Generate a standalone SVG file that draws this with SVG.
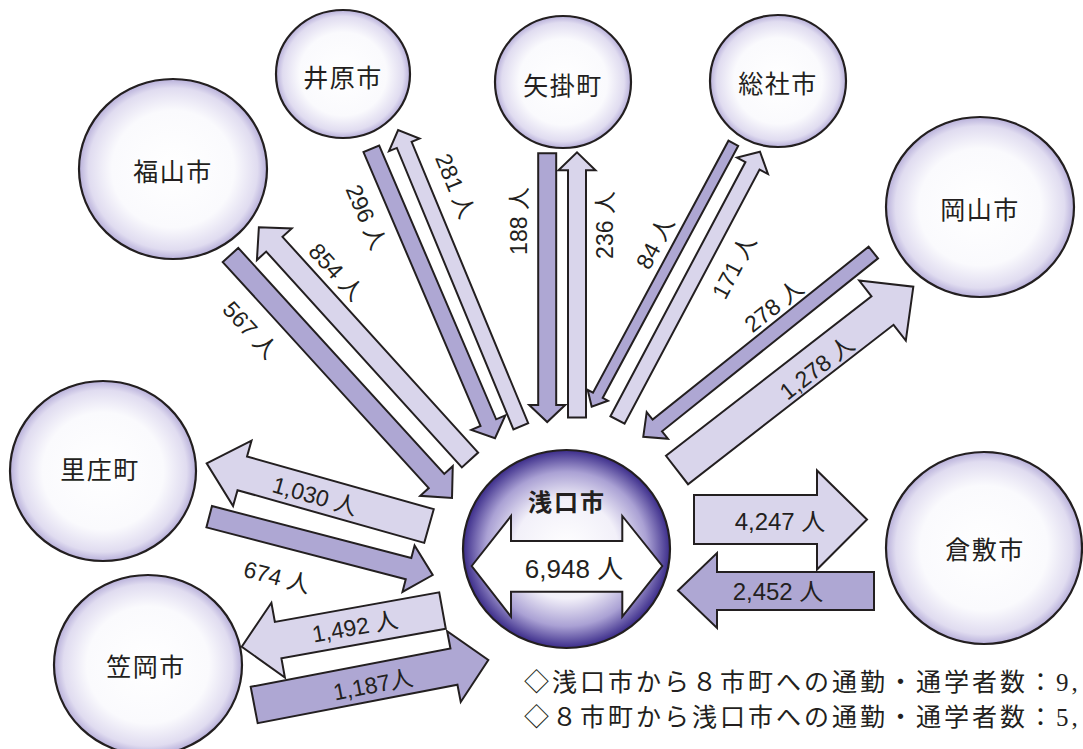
<svg xmlns="http://www.w3.org/2000/svg" width="1083" height="749" viewBox="0 0 1083 749">
<defs>
<radialGradient id="gN" cx="50%" cy="50%" r="50%">
<stop offset="0%" stop-color="#ffffff"/>
<stop offset="65%" stop-color="#fafafd"/>
<stop offset="90%" stop-color="#e0dcf0"/>
<stop offset="100%" stop-color="#b8b0da"/>
</radialGradient>
<radialGradient id="gC" cx="50%" cy="50%" r="50%">
<stop offset="0%" stop-color="#ffffff"/>
<stop offset="50%" stop-color="#f2f0f9"/>
<stop offset="78%" stop-color="#aaa1d4"/>
<stop offset="100%" stop-color="#3b2c8a"/>
</radialGradient>
<style>
.node{fill:url(#gN);stroke:#231f20;stroke-width:2.2}
.ctr{fill:url(#gC);stroke:#231f20;stroke-width:2.2}
.nl{font-family:'Noto Sans CJK JP',sans-serif;font-size:25px;fill:#231f20;text-anchor:middle;letter-spacing:1.5px}
.dk{fill:#aea7d3;stroke:#231f20;stroke-width:2}
.lt{fill:#d9d5eb;stroke:#231f20;stroke-width:2}
.wh{fill:#ffffff;stroke:#231f20;stroke-width:2}
.al{font-family:'Liberation Sans','Noto Sans CJK JP',sans-serif;font-size:23px;fill:#231f20;text-anchor:middle}
.bl{font-family:'Liberation Sans','Noto Sans CJK JP',sans-serif;font-size:24px;fill:#231f20;text-anchor:middle}
.big{font-family:'Liberation Sans','Noto Sans CJK JP',sans-serif;font-size:26px;fill:#231f20;text-anchor:middle}
.note{font-family:'Liberation Serif','Noto Sans CJK JP',serif;font-size:25px;fill:#231f20;letter-spacing:3px}
</style>
</defs>
<rect width="1083" height="749" fill="#ffffff"/>

<g id="node-fukuyama"><ellipse class="node" cx="173" cy="169" rx="94" ry="90"/><text class="nl" x="173" y="181">福山市</text></g>
<g id="node-ibara"><ellipse class="node" cx="343" cy="74" rx="67" ry="64"/><text class="nl" x="343" y="87">井原市</text></g>
<g id="node-yakage"><ellipse class="node" cx="563" cy="82" rx="68" ry="66"/><text class="nl" x="563" y="95">矢掛町</text></g>
<g id="node-soja"><ellipse class="node" cx="778" cy="81" rx="68" ry="66"/><text class="nl" x="778" y="93">総社市</text></g>
<g id="node-okayama"><ellipse class="node" cx="980" cy="207" rx="94" ry="90"/><text class="nl" x="980" y="219">岡山市</text></g>
<g id="node-satosho"><ellipse class="node" cx="103" cy="471" rx="93" ry="90"/><text class="nl" x="100" y="479">里庄町</text></g>
<g id="node-kasaoka"><ellipse class="node" cx="148" cy="665" rx="94" ry="90"/><text class="nl" x="146" y="676">笠岡市</text></g>
<g id="node-kurashiki"><ellipse class="node" cx="984" cy="548" rx="98" ry="96"/><text class="nl" x="985" y="559">倉敷市</text></g>
<g id="node-asakuchi">
<ellipse class="ctr" cx="566.5" cy="549" rx="103.5" ry="99"/>
<text x="567" y="511" font-family="'Noto Sans CJK JP',sans-serif" font-size="24" font-weight="bold" fill="#231f20" text-anchor="middle" letter-spacing="2">浅口市</text>
<polygon class="wh" points="471.7,566 511,516 511,541 622.3,541 622.3,516 662.3,566 622.3,616.7 622.3,591.7 511,591.7 511,616.7"/>
<text class="big" x="574" y="578">6,948 人</text>
</g>

<g id="connectors">
<polygon class="dk" transform="translate(230.5,255) rotate(47.65)" points="0,-10.5 305.8,-10.5 305.8,-22 328.8,0 305.8,22 305.8,10.5 0,10.5"/>
<polygon class="lt" transform="translate(470,460) rotate(227.8)" points="0,-11 291.3,-11 291.3,-23.5 314.3,0 291.3,23.5 291.3,11 0,11"/>
<polygon class="dk" transform="translate(371.3,148.8) rotate(66.86)" points="0,-8.5 297.8,-8.5 297.8,-18.5 314.8,0 297.8,18.5 297.8,8.5 0,8.5"/>
<polygon class="lt" transform="translate(520.8,426.3) rotate(247.5)" points="0,-8 304.6,-8 304.6,-16.5 320.6,0 304.6,16.5 304.6,8 0,8"/>
<polygon class="dk" transform="translate(547.2,153.3) rotate(90)" points="0,-9 251.7,-9 251.7,-18 268.7,0 251.7,18 251.7,9 0,9"/>
<polygon class="lt" transform="translate(577,417.5) rotate(-90)" points="0,-9 247.2,-9 247.2,-18.5 265.2,0 247.2,18.5 247.2,9 0,9"/>
<polygon class="dk" transform="translate(733.3,143.3) rotate(118.26)" points="0,-5.5 286.1,-5.5 286.1,-11.5 299.1,0 286.1,11.5 286.1,5.5 0,5.5"/>
<polygon class="lt" transform="translate(617.5,420) rotate(-62.03)" points="0,-8 287.8,-8 287.8,-17.5 303.8,0 287.8,17.5 287.8,8 0,8"/>
<polygon class="dk" transform="translate(873.3,252.5) rotate(141.31)" points="0,-7.5 276.7,-7.5 276.7,-17 294.7,0 276.7,17 276.7,7.5 0,7.5"/>
<polygon class="lt" transform="translate(677,470) rotate(-37.8)" points="0,-18 260.1,-18 260.1,-38 299.1,0 260.1,38 260.1,18 0,18"/>
<polygon class="dk" points="874,572 717,572 717,553 678,590.5 717,628 717,610 874,610"/>
<polygon class="lt" points="694,495 817,495 817,470.5 867,519.5 817,569.5 817,544 694,544"/>
<polygon class="lt" transform="translate(429,526) rotate(195.75)" points="0,-17.5 194,-17.5 194,-34 231,0 194,34 194,17.5 0,17.5"/>
<polygon class="dk" transform="translate(209.2,516.7) rotate(14.62)" points="0,-11 206,-11 206,-24 231,0 206,24 206,11 0,11"/>
<polygon class="lt" transform="translate(442.5,610.5) rotate(169.78)" points="0,-18.5 167,-18.5 167,-38 204,0 167,38 167,18.5 0,18.5"/>
<polygon class="dk" transform="translate(254.2,705) rotate(-10.88)" points="0,-18.5 203.4,-18.5 203.4,-36 238.4,0 203.4,36 203.4,18.5 0,18.5"/>

<text class="al" transform="translate(250,330) rotate(47.7)" dy="8">567 人</text>
<text class="al" transform="translate(336,272) rotate(47.8)" dy="8">854 人</text>
<text class="al" transform="translate(366,217) rotate(66.9)" dy="8">296 人</text>
<text class="al" transform="translate(455,186) rotate(67.5)" dy="8">281 人</text>
<text class="al" transform="translate(519,221) rotate(-90)" dy="8">188 人</text>
<text class="al" transform="translate(605,225) rotate(-90)" dy="8">236 人</text>
<text class="al" transform="translate(655,243) rotate(-62)" dy="8">84 人</text>
<text class="al" transform="translate(734,267) rotate(-62)" dy="8">171 人</text>
<text class="al" transform="translate(774,306) rotate(-38.7)" dy="8">278 人</text>
<text class="al" transform="translate(817,368) rotate(-37.8)" dy="8">1,278 人</text>
<text class="al" transform="translate(315,496) rotate(16)" dy="8">1,030 人</text>
<text class="al" transform="translate(277,577) rotate(14.6)" dy="8">674 人</text>
<text class="al" transform="translate(355,627) rotate(-10.2)" dy="8">1,492 人</text>
<text class="al" transform="translate(373,685) rotate(-10.9)" dy="8">1,187人</text>
<text class="bl" x="780" y="530">4,247 人</text>
<text class="bl" x="778" y="600">2,452 人</text>
</g>

<text class="note" x="524" y="691">◇浅口市から８市町への通勤・通学者数：9,</text>
<text class="note" x="524" y="726">◇８市町から浅口市への通勤・通学者数：5,</text>
</svg>
